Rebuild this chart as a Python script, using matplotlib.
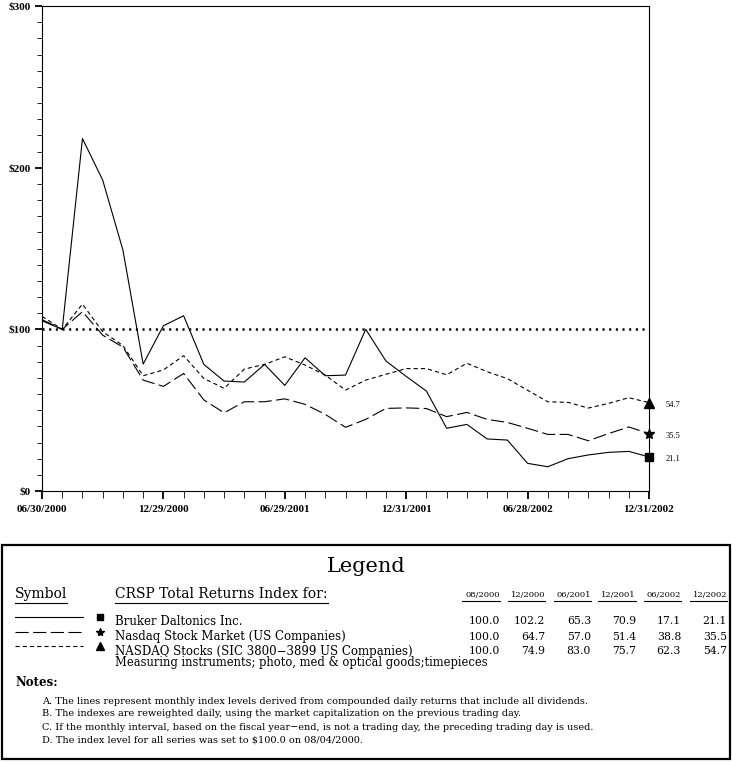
import matplotlib
matplotlib.use('Agg')
import numpy as np
import matplotlib.pyplot as plt
from matplotlib.lines import Line2D
from matplotlib.patches import Rectangle

# monthly index levels, 06/30/2000 .. 12/31/2002
months = list(range(31))
bruker = [105.3, 100.0, 218.0, 192.3, 149.0, 78.5, 102.2, 108.4, 78.3, 68.0, 67.4,
          78.3, 65.3, 82.4, 71.3, 71.7, 100.0, 80.4, 70.9, 61.8, 38.8,
          41.2, 32.2, 31.5, 17.1, 15.0, 20.0, 22.3, 23.9, 24.5, 21.1]
nasdaq = [106.0, 100.0, 110.9, 96.4, 89.0, 68.6, 64.7, 72.7, 56.3, 48.4, 55.2,
          55.2, 57.0, 53.6, 47.4, 39.4, 44.3, 51.1, 51.4, 51.0, 46.0,
          48.6, 44.3, 42.4, 38.8, 35.0, 35.0, 31.1, 35.5, 39.6, 35.5]
sic = [108.0, 100.0, 115.6, 98.5, 90.0, 71.3, 74.9, 83.7, 69.6, 63.5, 75.4,
       78.3, 83.0, 77.9, 71.7, 62.4, 68.6, 72.2, 75.7, 75.7, 71.9,
       79.0, 73.8, 69.5, 62.3, 55.2, 54.8, 51.3, 54.2, 57.7, 54.7]
baseline = 100.0

tick_months = [0, 6, 12, 18, 24, 30]
tick_dates = ['06/30/2000', '12/29/2000', '06/29/2001', '12/31/2001', '06/28/2002', '12/31/2002']
y_ticks = [0, 100, 200, 300]
y_labels = ['$0', '$100', '$200', '$300']

series_names = ['Bruker Daltonics Inc.',
                'Nasdaq Stock Market (US Companies)',
                'NASDAQ Stocks (SIC 3800\u22123899 US Companies)']
sic_subtitle = 'Measuring instruments; photo, med & optical goods;timepieces'
table_cols = ['08/2000', '12/2000', '06/2001', '12/2001', '06/2002', '12/2002']
table_vals = [
    [100.0, 102.2, 65.3, 70.9, 17.1, 21.1],
    [100.0, 64.7, 57.0, 51.4, 38.8, 35.5],
    [100.0, 74.9, 83.0, 75.7, 62.3, 54.7],
]
notes = [
    'A. The lines represent monthly index levels derived from compounded daily returns that include all dividends.',
    'B. The indexes are reweighted daily, using the market capitalization on the previous trading day.',
    'C. If the monthly interval, based on the fiscal year\u2212end, is not a trading day, the preceding trading day is used.',
    'D. The index level for all series was set to $100.0 on 08/04/2000.',
]

plt.rcParams['lines.scale_dashes'] = False
SERIF = 'DejaVu Serif'
NARROW = 'Liberation Serif'

W, H = 732, 762
def fx(px):
    return px / W
def fy(py):
    return 1 - py / H

styles = [
    dict(ls='-', marker='s', ms=6),
    dict(ls=(0, (9.5, 3.2)), marker='*', ms=7),
    dict(ls=(0, (3.0, 2.2)), marker='^', ms=7),
]
series = [bruker, nasdaq, sic]

fig = plt.figure(figsize=(W / 100, H / 100), dpi=100)
ax = fig.add_axes([fx(42), fy(491), fx(649) - fx(42), fy(6) - fy(491)])

for vals, st in zip(series, styles):
    ax.plot(months, vals, color='black', lw=0.8, ls=st['ls'])
    ax.plot(months[-1], vals[-1], color='black', marker=st['marker'], ms=st['ms'],
            ls='none', clip_on=False, zorder=5)
    ax.annotate(f'{vals[-1]:.1f}', (months[-1], vals[-1]), xytext=(12, -1.5),
                textcoords='offset points', va='center', ha='left',
                fontsize=6, family=NARROW, annotation_clip=False)

ax.hlines(baseline, months[0], months[-1] - 0.15, colors='black', lw=1.8,
          linestyles=[(0, (1.5, 3.3))])

ax.set_xlim(months[0], months[-1])
ax.set_ylim(y_ticks[0], y_ticks[-1])
ax.set_xticks(tick_months)
ax.set_xticklabels(tick_dates, family=NARROW, fontsize=8, weight='bold')
ax.set_xticks(months, minor=True)
ax.set_yticks(y_ticks)
ax.set_yticklabels(y_labels, family=NARROW, fontsize=8, weight='bold')
ax.set_yticks(np.arange(0, 301, 10), minor=True)
ax.tick_params(axis='x', which='major', length=6, width=1.3, pad=4)
ax.tick_params(axis='x', which='minor', length=5, width=0.6)
ax.tick_params(axis='y', which='major', length=5, width=1.3, pad=3)
ax.tick_params(axis='y', which='minor', length=3.5, width=0.6)
for sp in ax.spines.values():
    sp.set_linewidth(0.8)

# ---- legend panel ----
fig.add_artist(Rectangle((fx(2), fy(759)), fx(730) - fx(2), fy(545) - fy(759),
                         transform=fig.transFigure, fill=False, lw=1.6, ec='black'))
fig.text(fx(366), fy(567), 'Legend', ha='center', va='center', fontsize=15, family=SERIF)

renderer = fig.canvas.get_renderer()

def underline(t, gap=1.5, extend=0):
    bb = t.get_window_extent(renderer)
    fig.add_artist(Line2D([(bb.x0 - extend) / W, bb.x1 / W], [(bb.y0 - gap) / H] * 2,
                          transform=fig.transFigure, color='black', lw=0.8))

underline(fig.text(fx(15), fy(594), 'Symbol', va='center', fontsize=10, family=SERIF))
underline(fig.text(fx(115), fy(594), 'CRSP Total Returns Index for:', va='center',
                   fontsize=10, family=SERIF))

col_right = [500, 545, 591, 636, 681, 727]
for xr, c in zip(col_right, table_cols):
    underline(fig.text(fx(xr), fy(595), c, ha='right', va='center', fontsize=6,
                       family=SERIF), extend=3)

row_y = [621.5, 636.5, 651]
for i, (name, st) in enumerate(zip(series_names, styles)):
    y = row_y[i]
    fig.add_artist(Line2D([fx(15), fx(83)], [fy(y - 5)] * 2, transform=fig.transFigure,
                          color='black', lw=0.8, ls=st['ls']))
    fig.add_artist(Line2D([fx(100)], [fy(y - 5)], transform=fig.transFigure, color='black',
                          marker=st['marker'], ms=st['ms'] - 1, ls='none'))
    fig.text(fx(115), fy(y), name, va='center', fontsize=8.5, family=SERIF)
    for xr, v in zip(col_right, table_vals[i]):
        fig.text(fx(xr), fy(y), f'{v:.1f}', ha='right', va='center', fontsize=7.8, family=SERIF)
fig.text(fx(115), fy(662.5), sic_subtitle, va='center', fontsize=8.3, family=SERIF)

fig.text(fx(15), fy(682), 'Notes:', va='center', fontsize=8.5, family=SERIF, weight='bold')
for k, line in enumerate(notes):
    fig.text(fx(42), fy(701 + 13 * k), line, va='center', fontsize=7.0, family=SERIF)

fig.savefig('out.png', dpi=100)
